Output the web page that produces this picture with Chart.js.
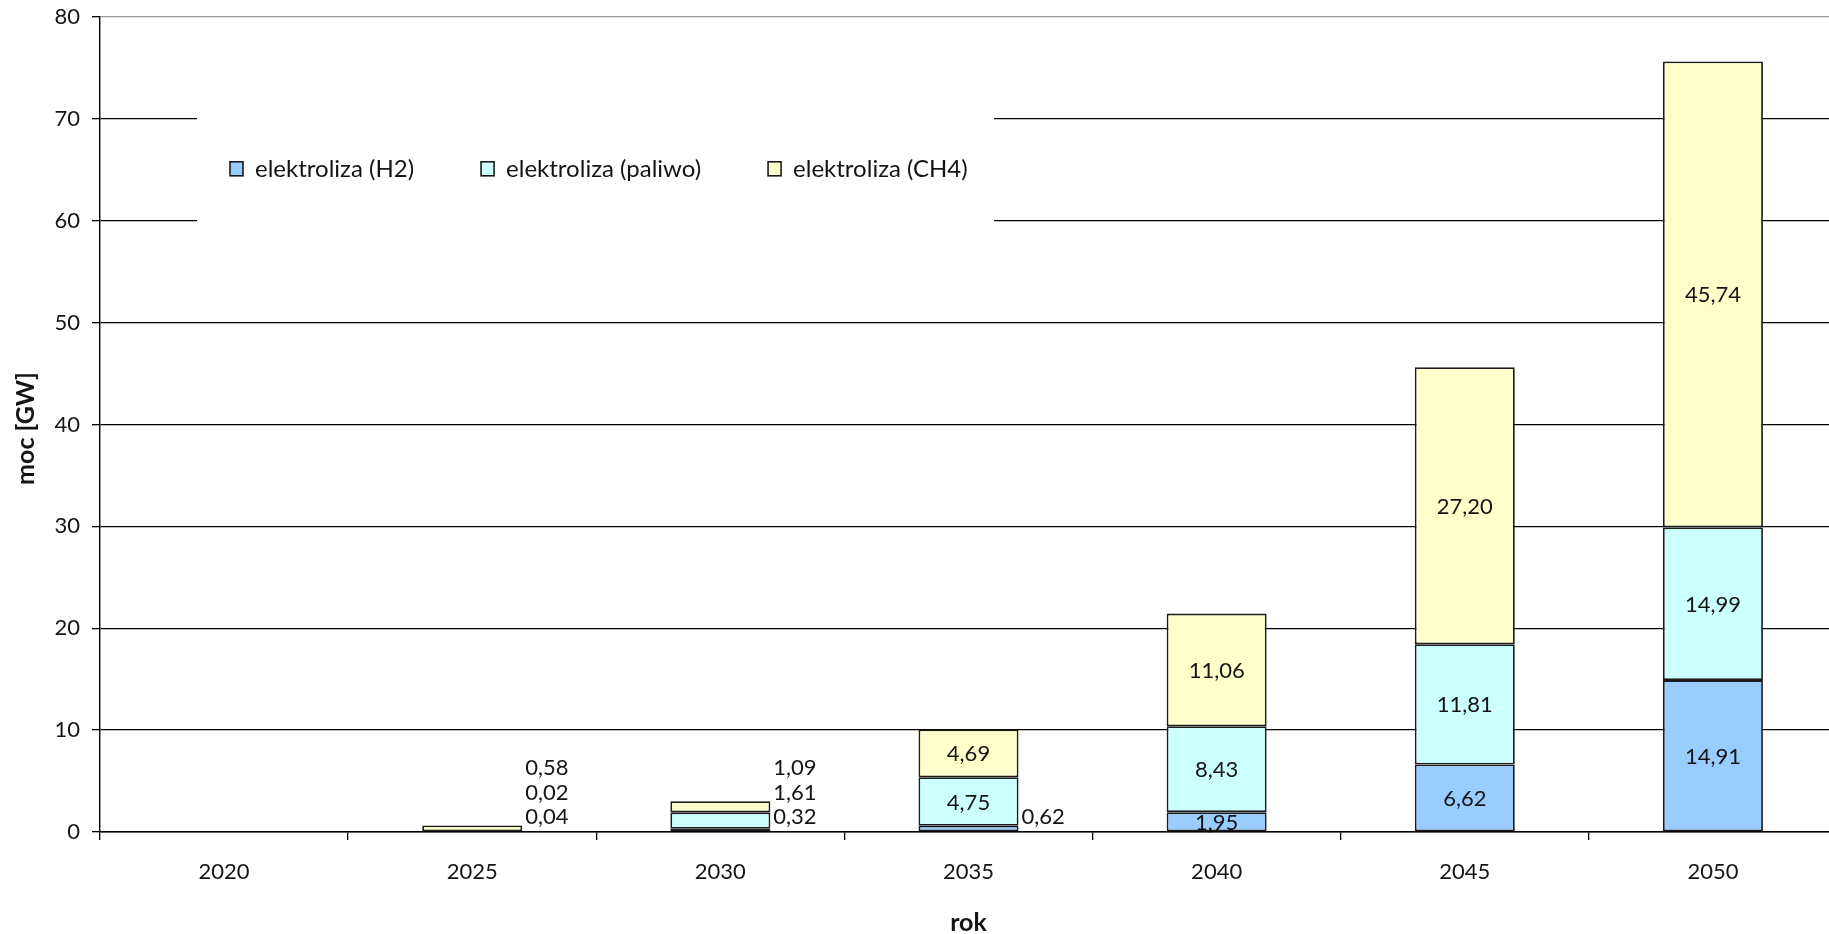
<!DOCTYPE html>
<html lang="pl">
<head>
<meta charset="utf-8">
<title>Moc elektrolizerów</title>
<script src="https://cdn.jsdelivr.net/npm/chart.js@4/dist/chart.umd.min.js"></script>
<style>
  html, body { margin: 0; padding: 0; background: #fff; overflow: hidden; }
  canvas { display: block; }
</style>
</head>
<body>
<canvas id="chart" width="1840" height="934"></canvas>
<script>
// Lata scenariusza
const years = ['2020', '2025', '2030', '2035', '2040', '2045', '2050'];

// Moc zainstalowana [GW] dla każdej technologii elektrolizy
const h2Values     = [0, 0.04, 0.32, 0.62, 1.95, 6.62, 14.91];
const paliwoValues = [0, 0.02, 1.61, 4.75, 8.43, 11.81, 14.99];
const ch4Values    = [0, 0.58, 1.09, 4.69, 11.06, 27.20, 45.74];

const seriesNames  = ['elektroliza (H2)', 'elektroliza (paliwo)', 'elektroliza (CH4)'];
const seriesColors = ['#99CCFF', '#CCFFFF', '#FFFFCC'];

// Oś Y
const yTicks = [0, 10, 20, 30, 40, 50, 60, 70, 80];

const FONT = 'Lato, "Open Sans", sans-serif';
const TEXT = '#141414';

const fmt = v => v.toFixed(2).replace('.', ',');

// Legenda na białym tle wewnątrz obszaru wykresu
const legendInPlot = {
  id: 'legendInPlot',
  beforeDatasetsDraw(chart) {
    const { ctx, chartArea } = chart;
    const y = chart.scales.y;
    ctx.save();
    const boxLeft = chartArea.left + 97;
    const boxRight = chartArea.left + 894;
    const boxTop = y.getPixelForValue(75);
    const boxBottom = y.getPixelForValue(55);
    ctx.fillStyle = '#fff';
    ctx.fillRect(boxLeft, boxTop, boxRight - boxLeft, boxBottom - boxTop);

    ctx.font = '24px ' + FONT;
    ctx.textBaseline = 'middle';
    const cy = y.getPixelForValue(65.1);
    let x = chartArea.left + 130;
    chart.data.datasets.forEach(ds => {
      ctx.fillStyle = ds.backgroundColor;
      ctx.fillRect(x, cy - 7, 13, 14);
      ctx.strokeStyle = '#1a1a1a';
      ctx.lineWidth = 1.6;
      ctx.strokeRect(x, cy - 7, 13, 14);
      ctx.fillStyle = TEXT;
      ctx.textAlign = 'left';
      ctx.fillText(ds.label, x + 25, cy);
      x += 25 + ctx.measureText(ds.label).width + 67;
    });
    ctx.restore();
  }
};

// Etykiety wartości: w środku segmentu lub obok słupka, gdy segment jest niski
const valueLabels = {
  id: 'valueLabels',
  afterDatasetsDraw(chart) {
    const { ctx } = chart;
    const zero = chart.scales.y.getPixelForValue(0);
    ctx.save();
    ctx.font = '22px ' + FONT;
    ctx.fillStyle = TEXT;
    ctx.textBaseline = 'middle';
    chart.data.datasets.forEach((ds, di) => {
      const meta = chart.getDatasetMeta(di);
      meta.data.forEach((bar, i) => {
        const v = ds.data[i];
        if (!v) return;
        const h = Math.abs(bar.base - bar.y);
        if (h < 18) {
          ctx.textAlign = 'left';
          ctx.fillText(fmt(v), bar.x + bar.width / 2 + 3, zero - 15 - di * 24.5);
        } else {
          ctx.textAlign = 'center';
          ctx.fillText(fmt(v), bar.x, (bar.y + bar.base) / 2 + 1);
        }
      });
    });
    ctx.restore();
  }
};

// Tytuły osi
const axisTitles = {
  id: 'axisTitles',
  afterDraw(chart) {
    const { ctx, chartArea } = chart;
    ctx.save();
    ctx.font = 'bold 25px ' + FONT;
    ctx.fillStyle = TEXT;
    ctx.textAlign = 'center';
    ctx.textBaseline = 'middle';
    ctx.fillText('rok', (chartArea.left + chartArea.right) / 2, chartArea.bottom + 91);
    ctx.translate(26, (chartArea.top + chartArea.bottom) / 2 + 4);
    ctx.rotate(-Math.PI / 2);
    ctx.fillText('moc [GW]', 0, 0);
    ctx.restore();
  }
};

const datasets = [h2Values, paliwoValues, ch4Values].map((vals, i) => ({
  label: seriesNames[i],
  data: vals,
  backgroundColor: seriesColors[i],
  borderColor: '#1c1c1c',
  borderWidth: 1.8,
  borderSkipped: false,
  categoryPercentage: 1,
  barPercentage: 0.403
}));

const chart = new Chart(document.getElementById('chart'), {
  type: 'bar',
  data: { labels: years, datasets },
  options: {
    responsive: false,
    animation: false,
    devicePixelRatio: 1,
    layout: { autoPadding: false, padding: { top: 17, right: 3, left: 0, bottom: 0 } },
    plugins: { legend: { display: false }, tooltip: { enabled: false } },
    scales: {
      x: {
        stacked: true,
        grid: {
          display: true,
          offset: true,
          drawOnChartArea: false,
          drawTicks: true,
          tickLength: 8,
          tickColor: '#000',
          lineWidth: 1.3
        },
        border: { display: true, color: '#000', width: 1.4 },
        ticks: { color: TEXT, font: { family: FONT, size: 22 }, padding: 19, maxRotation: 0 },
        afterFit(scale) {
          scale.height = 102;
          scale.paddingLeft = 0;
          scale.paddingRight = 0;
        }
      },
      y: {
        stacked: true,
        min: 0,
        max: 80,
        afterBuildTicks(scale) { scale.ticks = yTicks.map(v => ({ value: v })); },
        grid: {
          color: c => (c.tick && c.tick.value === 80 ? '#9a9a9a' : '#000'),
          tickColor: '#000',
          lineWidth: 1.3,
          tickLength: 8
        },
        border: { display: true, color: '#000', width: 1.4 },
        ticks: { color: TEXT, font: { family: FONT, size: 22 }, padding: 12 },
        afterFit(scale) {
          scale.width = 100;
          scale.paddingTop = 0;
          scale.paddingBottom = 0;
        }
      }
    }
  },
  plugins: [legendInPlot, valueLabels, axisTitles]
});
</script>
</body>
</html>
